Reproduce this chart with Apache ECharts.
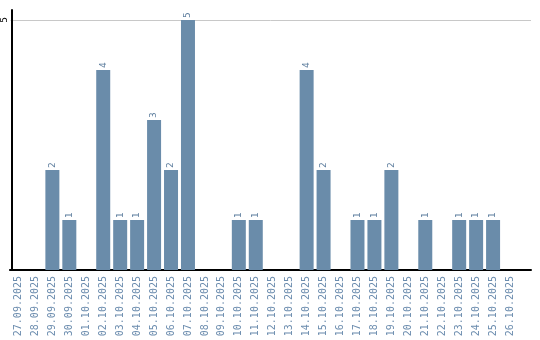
<!DOCTYPE html>
<html><head><meta charset="utf-8">
<script src="https://cdn.jsdelivr.net/npm/echarts@6/dist/echarts.min.js"></script>
<style>html,body{margin:0;padding:0;background:#fff}#c{width:540px;height:340px}</style>
</head><body><div id="c"></div>
<script>
var categories = ["27.09.2025","28.09.2025","29.09.2025","30.09.2025","01.10.2025","02.10.2025","03.10.2025","04.10.2025","05.10.2025","06.10.2025","07.10.2025","08.10.2025","09.10.2025","10.10.2025","11.10.2025","12.10.2025","13.10.2025","14.10.2025","15.10.2025","16.10.2025","17.10.2025","18.10.2025","19.10.2025","20.10.2025","21.10.2025","22.10.2025","23.10.2025","24.10.2025","25.10.2025","26.10.2025"];
var values = [0,0,2,1,0,4,1,1,3,2,5,0,0,1,1,0,0,4,2,0,1,1,2,0,1,0,1,1,1,0];
var yTicks = [5];

var chart = echarts.init(document.getElementById('c'), null, {renderer:'canvas'});
chart.setOption({
  animation:false,
  grid:[
    {left:8.5, top:10, width:510, bottom:70},
    {left:10.5, top:10, right:9, bottom:70}
  ],
  xAxis:[
    {type:'category', gridIndex:0, data:categories,
     axisLine:{show:true, lineStyle:{color:'#000', width:2}},
     axisTick:{show:false},
     axisLabel:{rotate:90, interval:0, margin:6, color:'#6b8cae', fontFamily:'DejaVu Sans Mono', fontSize:10}},
    {type:'category', gridIndex:1, data:[''],
     axisLine:{show:true, lineStyle:{color:'#000', width:2}},
     axisTick:{show:false}, axisLabel:{show:false}}
  ],
  yAxis:[
    {type:'value', gridIndex:0, min:0, max:5.2, interval:5, offset:-2,
     axisLine:{show:true, lineStyle:{color:'#000', width:2}},
     axisTick:{show:false},
     splitLine:{show:false},
     axisLabel:{rotate:90, margin:3, color:'#000', fontFamily:'DejaVu Sans', fontSize:9,
       formatter:function(v){return yTicks.indexOf(v)>=0 ? String(v) : '';}}},
    {type:'value', gridIndex:1, min:0, max:5.2, interval:5,
     axisLine:{show:false}, axisTick:{show:false}, axisLabel:{show:false},
     splitLine:{show:true, lineStyle:{color:['transparent','#c8c8c8','transparent'], width:1}}}
  ],
  series:[{
    type:'bar', xAxisIndex:0, yAxisIndex:0, data:values, barWidth:14,
    itemStyle:{color:'#6a8caa'},
    label:{show:true, position:'top', rotate:90, distance:2, align:'left', verticalAlign:'middle',
      color:'#5f7f9f', fontFamily:'DejaVu Sans', fontSize:9,
      formatter:function(p){return p.value>0 ? String(p.value) : '';}}
  }]
});
</script></body></html>
